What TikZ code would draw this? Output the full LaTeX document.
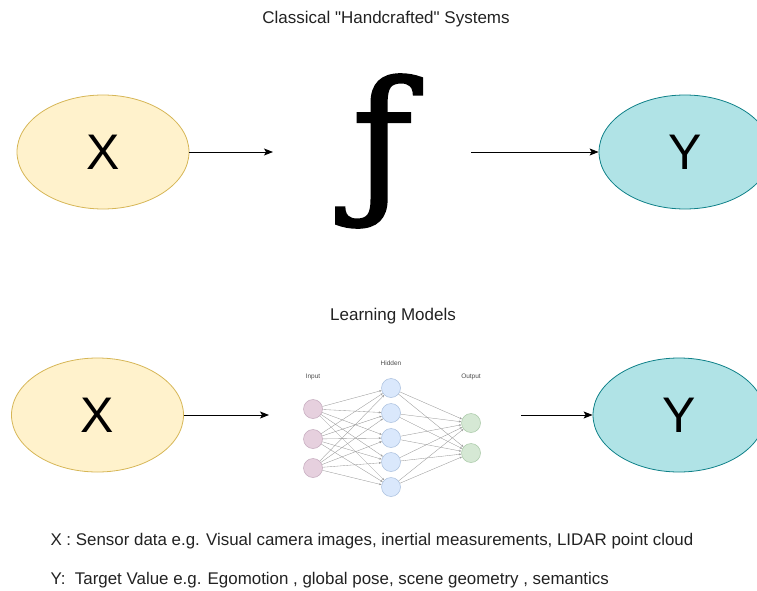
\documentclass[tikz,border=0pt]{standalone}
\usepackage{fontspec}
\setmainfont{Liberation Sans}
\newfontfamily\dvserif{DejaVu Serif}[FakeBold=1.6]
\usetikzlibrary{shapes.geometric,arrows.meta}

\definecolor{inFill}{HTML}{FFF2CC}
\definecolor{inLine}{HTML}{D6B656}
\definecolor{outFill}{HTML}{B0E3E6}
\definecolor{outLine}{HTML}{0E8088}
\definecolor{nnIn}{HTML}{E6D0DE}
\definecolor{nnInLine}{HTML}{C3A9BC}
\definecolor{nnHid}{HTML}{DAE8FC}
\definecolor{nnHidLine}{HTML}{A9BFDD}
\definecolor{nnOut}{HTML}{D5E8D4}
\definecolor{nnOutLine}{HTML}{A8C8A6}
\definecolor{txt}{HTML}{222222}

\tikzset{
  blob/.style={ellipse, draw, line width=0.8pt, minimum width=172pt, minimum height=114pt,
    inner sep=0pt, font=\fontsize{50}{56}\selectfont},
  xblob/.style={blob, fill=inFill, draw=inLine},
  yblob/.style={blob, fill=outFill, draw=outLine},
  flow/.style={line width=0.9pt, -{Stealth[length=9pt,width=7pt,inset=2pt]}},
  caption/.style={font=\fontsize{17}{20}\selectfont, text=txt},
  note/.style={font=\fontsize{16.9}{20}\selectfont, text=txt, anchor=west},
  neuron/.style={circle, minimum size=19pt, inner sep=0pt, line width=0.5pt},
  inN/.style={neuron, fill=nnIn, draw=nnInLine},
  hidN/.style={neuron, fill=nnHid, draw=nnHidLine},
  outN/.style={neuron, fill=nnOut, draw=nnOutLine},
  syn/.style={draw=black!40, line width=0.35pt, -{Stealth[length=2.5pt,width=2pt]}},
  layerlabel/.style={font=\fontsize{6.5}{7}\selectfont, text=black!70},
  func/.style={inner sep=0pt, font=\dvserif\fontsize{162}{162}\selectfont}
}

\begin{document}
\begin{tikzpicture}[x=1pt,y=-1pt]
\useasboundingbox (0,0) rectangle (757,591);
\clip (0,0) rectangle (757,591);

% --- classical pipeline ---
\node[caption] (title1) at (386,19) {Classical \textquotedbl Handcrafted\textquotedbl{} Systems};
\node[xblob] (x1) at (103,152) {X};
\node[func] (f) at (382,151) {ƒ};
\node[yblob] (y1) at (685,152) {Y};
\coordinate (fin) at (273,152);
\coordinate (fout) at (471,152);
\draw[flow] (x1.east) -- (fin);
\draw[flow] (fout) -- (y1.west);

% --- learned pipeline ---
\node[caption] (title2) at (393,316) {Learning Models};
\node[xblob] (x2) at (97.5,415) {X};
\node[yblob] (y2) at (679,415) {Y};
\coordinate (nnL) at (269,415);
\coordinate (nnR) at (521,415);
\draw[flow] (x2.east) -- (nnL);
\draw[flow] (nnR) -- (y2.west);

% small neural network sketch
\foreach \i/\y in {1/409,2/439,3/468} \node[inN] (i\i) at (313,\y) {};
\foreach \i/\y in {1/388,2/413,3/438,4/462,5/487} \node[hidN] (h\i) at (391,\y) {};
\foreach \i/\y in {1/423,2/453} \node[outN] (o\i) at (471,\y) {};
\foreach \a in {1,2,3} \foreach \b in {1,...,5} \draw[syn] (i\a) -- (h\b);
\foreach \a in {1,...,5} \foreach \b in {1,2} \draw[syn] (h\a) -- (o\b);
\node[layerlabel] (lin) at (313,377) {Input};
\node[layerlabel] (lhid) at (391,363) {Hidden};
\node[layerlabel] (lout) at (471,377) {Output};

% --- legend ---
\node[note] (nx) at (47,541) {X : Sensor data e.g. Visual camera images, inertial measurements, LIDAR point cloud};
\node[note] (ny) at (47,580) {Y:\ \ Target Value e.g. Egomotion , global pose, scene geometry , semantics};
\end{tikzpicture}
\end{document}
